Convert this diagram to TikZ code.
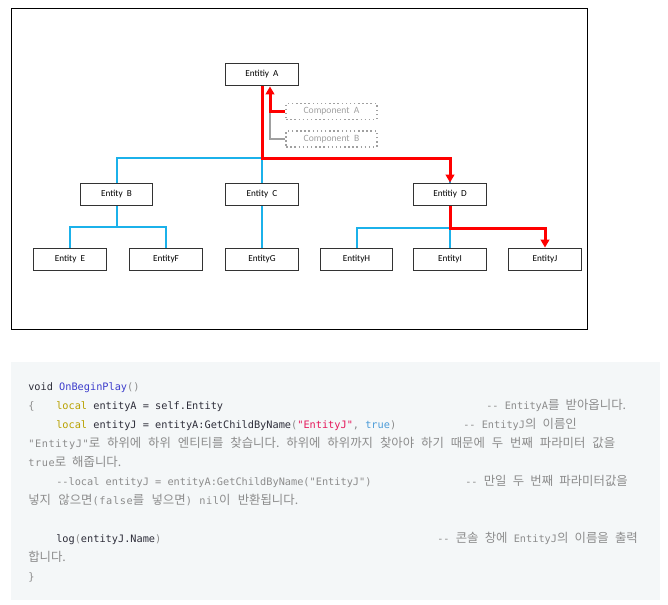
\documentclass[tikz,border=0pt]{standalone}
\usepackage{fontspec}
\setmainfont{Carlito}
\newfontfamily\monof{DejaVu Sans Mono}
\newfontfamily\monow{DejaVu Sans Mono}[LetterSpace=6]
\newfontfamily\krf{Noto Sans CJK KR}
\usetikzlibrary{arrows.meta}
\definecolor{codebg}{HTML}{F4F7F8}
\definecolor{cdark}{HTML}{2E2E3A}
\definecolor{cgrey}{HTML}{8C8C8C}
\definecolor{cfn}{HTML}{3D3DCC}
\definecolor{ckw}{HTML}{B8A100}
\definecolor{cstr}{HTML}{E5175A}
\definecolor{ctrue}{HTML}{4A9BD8}
\definecolor{lblue}{HTML}{1BB1EA}
\definecolor{lred}{HTML}{FF0000}
\definecolor{boxline}{HTML}{333333}
\definecolor{compgrey}{HTML}{A0A0A0}
\newcommand\K[1]{{\krf\fontsize{9.3}{10}\selectfont #1}}
\newcommand\Mw[1]{{\monow\fontsize{7.7}{9}\selectfont #1}}
\newcommand\dd{-\kern0pt-}
\frenchspacing
\begin{document}
\begin{tikzpicture}[x=0.75pt,y=-0.75pt,
  ent/.style={draw=boxline,line width=0.9pt,minimum width=54.5pt,minimum height=17pt,inner sep=0pt,
    font=\fontsize{6.9}{7}\selectfont,text=black},
  comp/.style={draw=compgrey,dotted,line width=1.1pt,minimum width=68pt,minimum height=12pt,inner sep=0pt,
    font=\fontsize{7.2}{7}\selectfont,text=compgrey},
  bl/.style={draw=lblue,line width=1.5pt},
  rd/.style={draw=lred,line width=2.25pt},
  gr/.style={draw=compgrey,line width=1.5pt},
  tip/.style={-{Triangle[width=6.5pt,length=6pt]}},
  code/.style={anchor=base west,inner sep=0pt,font=\monof\fontsize{7.7}{9}\selectfont,text=cdark},
  cmt/.style={code,text=cgrey},
  kr/.style={anchor=base west,inner sep=0pt,font=\krf\fontsize{9.3}{10}\selectfont\frenchspacing,text=cgrey}]
\useasboundingbox (0,0) rectangle (668,604);
% frame
\draw[line width=0.7pt] (11,8) rectangle (587,329);
% nodes
\node[ent] (A) at (262,74.5) {Entitiy\ \ A};
\node[comp] (cA) at (331.5,111.5) {Component\ \ A};
\node[comp] (cB) at (331.5,139) {Component\ \ B};
\node[ent] (B) at (116.5,194.5) {Entity\ \ B};
\node[ent] (C) at (262,194.5) {Entity\ \ C};
\node[ent] (D) at (450,194.5) {Entitiy\ \ D};
\node[ent] (E) at (70,259.5) {Entity\ \ E};
\node[ent] (F) at (166,259.5) {EntityF};
\node[ent] (G) at (262,259.5) {EntityG};
\node[ent] (H) at (356.5,259.5) {EntityH};
\node[ent] (I) at (450,259.5) {EntityI};
\node[ent] (J) at (545,259.5) {EntityJ};
\coordinate (busT) at (262,158);
\coordinate (busB) at (117,227);
\coordinate (busD) at (450,228);
\coordinate (ja) at (270,0);
% blue connectors
\draw[bl] (B.north) -- (B.north|-busT) -- (D.north|-busT) -- (D.north);
\draw[bl] (C.north) -- (C.north|-busT);
\draw[bl] (B.south) -- (B.south|-busB);
\draw[bl] (E.north) -- (E.north|-busB) -- (F.north|-busB) -- (F.north);
\draw[bl] (C.south) -- (G.north);
\draw[bl] (H.north) -- (H.north|-busD) -- (I.north|-busD) -- (I.north);
% grey connector
\draw[gr] (cB.west) -| (cA.west -| ja);
% red connectors
\draw[rd,tip] (cA.west) -| (A.south -| ja);
\draw[rd,tip] (A.south) -- (A.south|-busT) -| (D.north);
\draw[rd,tip] (D.south) -- (D.south|-busD) -| (J.north);
% code block
\fill[codebg] (11,362) rectangle (660,600);
\node[code] (l1) at (28,390) {void \textcolor{cfn}{OnBeginPlay}\textcolor{cgrey}{()}};
\node[cmt] (l2a) at (28,409) {\{};
\node[code] (l2b) at (56,409) {\textcolor{ckw}{local} entityA = self.Entity};
\node[cmt] (l2c) at (486,409) {\dd{} EntityA\K{를} \K{받아옵니다.}};
\node[code] (l3a) at (56,428) {\textcolor{ckw}{local} entityJ = entityA:GetChildByName\textcolor{cgrey}{(}\textcolor{cstr}{"EntityJ"}\textcolor{cgrey}{, }\textcolor{ctrue}{true}\textcolor{cgrey}{)}};
\node[cmt] (l3b) at (463,428) {\dd{} EntityJ\K{의} \K{이름인}};
\node[kr] (l4) at (28,447) {\makebox[440.25pt][s]{\Mw{"EntityJ"}로 하위에 하위 엔티티를 찾습니다. 하위에 하위까지 찾아야 하기 때문에 두 번째 파라미터 값을}};
\node[kr] (l5) at (28,466) {\makebox[69.75pt][s]{\Mw{true}로 해줍니다.}};
\node[cmt] (l6a) at (56,485) {\dd local entityJ = entityA:GetChildByName("EntityJ")};
\node[cmt] (l6b) at (465,485) {\dd{} \K{만일} \K{두} \K{번째} \K{파라미터값을}};
\node[kr] (l7) at (28,504) {\makebox[202.5pt][s]{넣지 않으면\Mw{(false}를 넣으면\Mw{)} \Mw{nil}이 반환됩니다.}};
\node[code] (l9a) at (56,542) {log\textcolor{cgrey}{(}entityJ.Name\textcolor{cgrey}{)}};
\node[cmt] (l9b) at (437,542) {\dd{} \K{콘솔} \K{창에} EntityJ\K{의} \K{이름을} \K{출력}};
\node[kr] (l10) at (28,561) {합니다.};
\node[cmt] (l11) at (28,580) {\}};
\end{tikzpicture}
\end{document}
